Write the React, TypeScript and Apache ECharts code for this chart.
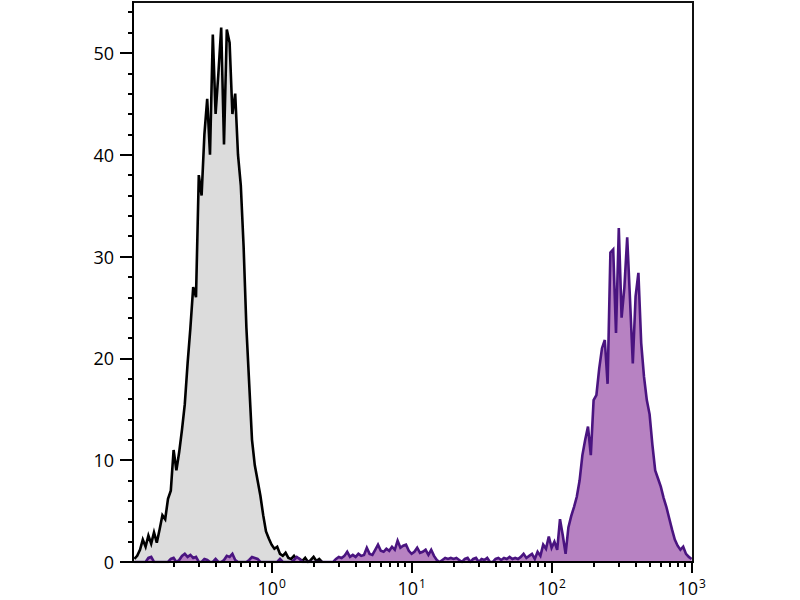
import { useEffect, useRef } from 'react';
import * as echarts from 'echarts';

// Histogram bins in log10 space (channel positions)
const BIN_START = -0.98;
const BIN_STEP = 0.02;

// Unstained / isotype control (grey)
const grayCounts = [
  0.3, 0.6, 1.2, 2.2, 1.5, 2.6, 1.8, 2.9, 1.9, 3.2,
  4.6, 4.2, 6.2, 7.0, 11.0, 9.0, 10.8, 13.0, 15.5, 19.5,
  23.0, 27.0, 26.0, 38.0, 36.0, 42.0, 45.5, 40.0, 51.8, 44.0,
  48.0, 52.5, 41.0, 52.3, 51.0, 44.0, 46.0, 40.0, 37.0, 31.0,
  23.0, 17.5, 12.0, 9.5, 8.0, 6.5, 4.6, 3.0, 2.3, 1.7,
  1.3, 1.5, 0.8, 0.6, 0.9, 0.4, 0.3, 0.6, 0.2, 0.3,
  0.1, 0.4, 0, 0.2, 0.5, 0.1, 0.3, 0,
];

// Stained sample (purple)
const purpleCounts = [
  0, 0, 0, 0, 0, 0.4, 0.5, 0, 0, 0,
  0, 0, 0, 0.3, 0.4, 0, 0.2, 0.6, 0.8, 0.5,
  0.7, 0.4, 0.5, 0, 0, 0.3, 0.2, 0, 0, 0.3,
  0, 0, 0.2, 0.6, 0.5, 0.8, 0.2, 0, 0, 0,
  0, 0.2, 0.5, 0.4, 0.3, 0, 0, 0, 0, 0,
  0, 0, 0.3, 0, 0, 0, 0, 0.2, 0.5, 0.3,
  0, 0, 0, 0, 0, 0, 0, 0, 0, 0,
  0, 0, 0.3, 0.5, 0.4, 0.6, 1.0, 0.5, 0.7, 0.5,
  0.8, 0.6, 0.7, 1.4, 0.8, 0.7, 1.2, 1.7, 1.1, 1.0,
  1.3, 1.1, 1.5, 1.2, 2.1, 1.4, 1.6, 1.7, 1.1, 0.8,
  1.0, 1.4, 0.9, 1.0, 1.2, 0.7, 1.2, 0.6, 0.2, 0,
  0.2, 0.4, 0.3, 0.4, 0.3, 0.4, 0.2, 0, 0.3, 0.4,
  0, 0.3, 0.4, 0, 0.3, 0.2, 0.4, 0, 0, 0.3,
  0.4, 0.2, 0.4, 0.3, 0.5, 0.3, 0.4, 0.3, 0.5, 0.8,
  0.4, 0.6, 0.8, 0.3, 1.0, 0.6, 1.7, 1.3, 2.5, 1.4,
  2.0, 1.2, 4.2, 2.6, 0.8, 3.4, 4.5, 5.4, 6.4, 8.0,
  10.5, 12.0, 13.3, 10.5, 15.9, 16.4, 19.0, 21.0, 21.8, 17.5,
  30.4, 30.7, 22.5, 32.8, 24.0, 27.0, 31.9, 25.8, 19.5, 26.1,
  28.4, 21.5, 18.2, 15.9, 14.5, 11.5, 9.0, 8.2, 7.4, 6.3,
  5.4, 4.3, 3.2, 2.2, 1.6, 1.2, 1.5, 0.8, 0.5, 0.3,
];

// Axes
const X_MIN = -0.99;
const X_MAX = 3.01;
const X_MAJOR = [0, 1, 2, 3];
const X_DECADES = [-1, 0, 1, 2];
const X_MINOR_MULT = [2, 3, 4, 5, 6, 7, 8, 9];
const Y_MIN = 0;
const Y_MAX = 55;
const Y_MAJOR = [0, 10, 20, 30, 40, 50];
const Y_MINOR = [2, 4, 6, 8, 12, 14, 16, 18, 22, 24, 26, 28, 32, 34, 36, 38, 42, 44, 46, 48, 52, 54];

const FONT = '"Open Sans", "DejaVu Sans", sans-serif';

const toData = (counts: number[]) => counts.map((v, i) => [BIN_START + i * BIN_STEP, v]);

export default function App() {
  const ref = useRef<HTMLDivElement>(null);
  useEffect(() => {
    if (!ref.current) return;
    const chart = echarts.init(ref.current, null, { renderer: 'svg' });
    const xMinor: number[] = [];
    X_DECADES.forEach((d) => {
      X_MINOR_MULT.forEach((m) => {
        const v = Math.log10(m) + d;
        if (v > X_MIN && v < X_MAX) xMinor.push(v);
      });
    });
    const axisLine = { show: true, onZero: false, lineStyle: { color: '#000', width: 2 } };
    const noLine = { show: false, onZero: false };
    chart.setOption({
      animation: false,
      backgroundColor: '#fff',
      grid: {
        left: 133,
        right: 107,
        top: 2,
        bottom: 38,
        show: true,
        borderColor: '#111',
        borderWidth: 2,
        backgroundColor: 'transparent',
        z: 10,
      },
      xAxis: [
        {
          type: 'value',
          min: X_MIN,
          max: X_MAX,
          position: 'bottom',
          z: 10,
          axisLine,
          splitLine: { show: false },
          axisTick: {
            show: true,
            length: 11,
            customValues: X_MAJOR,
            lineStyle: { color: '#000', width: 2 },
          },
          axisLabel: {
            show: true,
            customValues: X_MAJOR,
            margin: 15,
            formatter: (v: number) => `{b|10}{s|${Math.round(v)}}`,
            rich: {
              b: { fontSize: 18, fontFamily: FONT, color: '#000', lineHeight: 20, verticalAlign: 'bottom' },
              s: { fontSize: 12, fontFamily: FONT, color: '#000', padding: [0, 0, 8, 1], verticalAlign: 'bottom' },
            },
          },
        },
        {
          type: 'value',
          min: X_MIN,
          max: X_MAX,
          position: 'bottom',
          z: 10,
          axisLine: noLine,
          splitLine: { show: false },
          axisTick: {
            show: true,
            length: 5,
            customValues: xMinor,
            lineStyle: { color: '#000', width: 2 },
          },
          axisLabel: { show: false },
        },
      ],
      yAxis: [
        {
          type: 'value',
          min: Y_MIN,
          max: Y_MAX,
          position: 'left',
          z: 10,
          axisLine,
          splitLine: { show: false },
          axisTick: {
            show: true,
            length: 13,
            customValues: Y_MAJOR,
            lineStyle: { color: '#000', width: 2 },
          },
          axisLabel: {
            show: true,
            customValues: Y_MAJOR,
            margin: 19,
            fontSize: 18,
            fontFamily: FONT,
            color: '#000',
          },
        },
        {
          type: 'value',
          min: Y_MIN,
          max: Y_MAX,
          position: 'left',
          z: 10,
          axisLine: noLine,
          splitLine: { show: false },
          axisTick: {
            show: true,
            length: 5,
            customValues: Y_MINOR,
            lineStyle: { color: '#000', width: 2 },
          },
          axisLabel: { show: false },
        },
      ],
      series: [
        {
          name: 'Control',
          type: 'line',
          xAxisIndex: 0,
          yAxisIndex: 0,
          data: toData(grayCounts),
          showSymbol: false,
          symbol: 'none',
          lineStyle: { color: '#000', width: 2.6, join: 'miter' },
          areaStyle: { color: '#dcdcdc', opacity: 1 },
          z: 2,
        },
        {
          name: 'Stained',
          type: 'line',
          xAxisIndex: 0,
          yAxisIndex: 0,
          data: toData(purpleCounts),
          showSymbol: false,
          symbol: 'none',
          lineStyle: { color: '#4a1480', width: 2.6, join: 'miter' },
          areaStyle: { color: '#b782c2', opacity: 1 },
          z: 3,
        },
      ],
    });
    return () => chart.dispose();
  }, []);
  return (
    <div
      ref={ref}
      style={{ position: 'fixed', left: 0, top: 0, width: 800, height: 600, background: '#fff' }}
    />
  );
}
